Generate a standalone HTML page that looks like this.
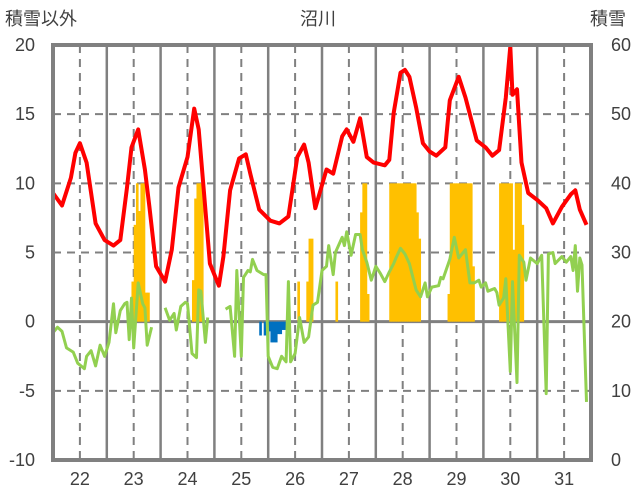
<!DOCTYPE html>
<html><head><meta charset="utf-8"><style>
body{margin:0;background:#fff;}
svg{display:block;font-family:"Liberation Sans","Noto Sans CJK JP",sans-serif;}
</style></head><body>
<svg id="chart" width="636" height="501" viewBox="0 0 636 501">
<text x="5" y="25" font-size="18" fill="#404040">積雪以外</text>
<text x="318" y="25" font-size="18" fill="#404040" text-anchor="middle">沼川</text>
<text x="590" y="25" font-size="18" fill="#404040">積雪</text>
<g id="grid"></g>
<g id="bars"></g>
<g id="lines"></g>
<g id="axes"></g>
</svg>
<script>
const dayLabels=[22,23,24,25,26,27,28,29,30,31];
const leftTicks=[20,15,10,5,0,-5,-10];
const rightTicks=[60,50,40,30,20,10,0];
const redHours=[0,4,8,10,12,15,19,23,27,30,33,35,38,41,43,46,50,53,56,60,63,65,67,70,74,76,79,83,86,88,92,97,101,105,109,112,114,117,122,125,129,131,134,137,140,143,148,150,152,155,157,159,162,165,168,171,175,177,181,184,189,193,196,199,202,204,205,207,209,212,216,220,223,227,231,233,235,238];
const redVals=[9.3,8.4,10.4,12.2,12.9,11.5,7.1,5.9,5.5,5.9,9.7,12.6,13.9,11,8.3,4,2.9,5.2,9.7,11.9,15.4,13.9,10,4.2,2.6,4.7,9.5,11.8,12.1,10.7,8.1,7.3,7.1,7.6,11.9,12.8,11.5,8.2,11,10.7,13.4,13.9,13,14.7,11.9,11.5,11.3,11.7,15.1,18,18.2,17.7,15.5,12.9,12.3,12,12.6,16,17.7,16.2,13.1,12.6,12,12.4,16.2,19.9,16.4,16.8,11.5,9.3,8.8,8.2,7.1,8.3,9.2,9.5,8.1,7.0];
const greenHours=[0,2,4,6,9,11,14,15,17,19,21,23,25,27,28,30,32,33,34,35,36,38,40,41,42,44,null,50,52,54,55,57,59,60,62,64,65,66,68,69,null,77,79,81,82,84,85,87,88,89,91,94,95,96,98,100,102,104,105,106,108,110,112,114,116,118,120,122,123,125,126,129,130,131,133,135,137,138,140,142,144,146,148,150,152,153,155,157,159,162,164,166,167,169,172,173,174,177,179,181,184,186,188,190,191,193,194,197,198,199,201,202,204,205,207,208,210,211,213,216,218,220,221,223,224,227,229,231,232,233,234,235,236,238];
const greenVals=[-0.8,-0.4,-0.7,-1.9,-2.2,-3.0,-3.4,-2.5,-2.1,-3.2,-1.7,-2.5,-1.5,1.3,-0.8,0.8,1.3,1.4,-1.3,1.7,-1.9,2.8,1.3,1.0,-1.7,-0.4,null,1.0,0.1,0.6,-0.6,1.1,1.4,1.3,-2.3,-2.6,2.3,2.2,-1.5,0.3,null,0.9,1.1,-2.5,3.7,-2.5,3.2,3.7,3.6,4.5,3.7,3.4,3.4,-2.5,-3.3,-3.4,-2.5,-2.9,2.9,-2.9,-2.3,0.3,-1.5,-1.1,1.2,1.4,3.7,4.0,5.5,3.4,5.0,6.1,5.5,6.5,4.8,6.3,6.3,5.2,4.3,3.0,4.0,3.5,2.9,3.6,4.2,4.6,5.3,4.9,4.2,2.3,1.8,2.8,1.8,2.5,2.6,3.2,3.1,4.5,6.1,4.6,5.2,2.8,2.8,3.0,2.5,2.8,2.2,2.4,2.1,1.2,1.7,3.1,-3.6,2.9,-4.4,4.8,4.3,3.0,4.6,4.2,4.8,-5.2,4.9,5.0,4.2,4.7,4.3,4.7,3.7,5.5,2.2,4.6,4.1,-5.8];
const snowHours=[35,36,37,38,39,40,41,42,62,63,64,65,66,109,113,114,115,126,137,138,139,140,150,151,152,153,154,155,156,157,158,159,160,161,162,163,176,177,178,179,180,181,182,183,184,185,186,187,199,200,201,202,203,204,205,206,207,208,209];
const snowVals=[2.9,7.0,10,8,10,10,2.1,2.1,3.0,8.9,10,10,10,2.9,2.9,6,6,2.9,7.9,10,10,2.0,10,10,10,10,10,10,10,10,10,10,10,10,7.9,6,2.0,10,10,10,10,10,10,10,10,10,10,4.0,10,10,10,10,10,10,5.2,10,10,10,7.0];
const blueHours=[92,94,95,96,97,98,99,100,101,102,103];
const blueVals=[-1.0,-1.0,-0.7,-0.7,-1.5,-1.5,-1.5,-0.9,-0.9,-0.6,-0.6];

const NS='http://www.w3.org/2000/svg';
const X0=53,X1=591,Y0=45,Y1=460;
const xH=h=>X0+h*(X1-X0)/240;
const yL=v=>Y0+(20-v)*(Y1-Y0)/30;
const yR=v=>Y1-v*(Y1-Y0)/60;
function mk(tag,attrs,parent){const e=document.createElementNS(NS,tag);for(const k in attrs)e.setAttribute(k,attrs[k]);parent.appendChild(e);return e;}
const grid=document.getElementById('grid'),bars=document.getElementById('bars'),lines=document.getElementById('lines'),axes=document.getElementById('axes');
// horizontal grid
leftTicks.forEach(v=>{
  if(v===20||v===-10)return;
  const l=mk('line',{x1:X0,x2:X1,y1:yL(v),y2:yL(v),stroke:v===0?'#808080':'#808080','stroke-width':v===0?3:2,'stroke-dasharray':v===0?'none':'8,6'},grid);
  
  
});
dayLabels.forEach((d,i)=>{
  const xc=xH(i*24+12);
  const l=mk('line',{x1:xc,x2:xc,y1:Y0,y2:Y1,stroke:'#808080','stroke-width':2,'stroke-dasharray':'8,6'},grid);
  
  
  if(i>0){const xb=xH(i*24);
    const b=mk('line',{x1:xb,x2:xb,y1:Y0,y2:Y1,stroke:'#808080','stroke-width':2.5},grid);
    
    }
  const t=mk('text',{x:xc,y:485,'font-size':18,fill:'#404040','text-anchor':'middle'},axes);
  t.textContent=d;
  
  
});
const bw=(X1-X0)/240;
snowHours.forEach((h,i)=>{
  const r=mk('rect',{x:xH(h),y:yL(snowVals[i]),width:bw+0.4,height:yL(0)-yL(snowVals[i]),fill:'#ffc000'},bars);
  
  
});
blueHours.forEach((h,i)=>{
  const r=mk('rect',{x:xH(h),y:yL(0),width:bw+0.4,height:yL(blueVals[i])-yL(0),fill:'#0070c0'},bars);
  
  
});
// green line with gaps
let d='',pen=false;
greenHours.forEach((h,i)=>{
  if(h===null||greenVals[i]===null){pen=false;return;}
  d+=(pen?'L':'M')+xH(h).toFixed(1)+','+yL(greenVals[i]).toFixed(1);pen=true;
});
const g=mk('path',{d:d,fill:'none',stroke:'#92d050','stroke-width':3,'stroke-linejoin':'round'},lines);


let dr='';
redHours.forEach((h,i)=>{dr+=(i?'L':'M')+xH(h).toFixed(1)+','+yL(redVals[i]).toFixed(1);});
const r=mk('path',{d:dr,fill:'none',stroke:'#ff0000','stroke-width':4,'stroke-linejoin':'round'},lines);


// frame
const f=mk('rect',{x:X0,y:Y0,width:X1-X0,height:Y1-Y0,fill:'none',stroke:'#808080','stroke-width':4},axes);


leftTicks.forEach(v=>{
  const t=mk('text',{x:35,y:yL(v)+6,'font-size':18,fill:'#404040','text-anchor':'end'},axes);
  t.textContent=v;
  
  
});
rightTicks.forEach(v=>{
  const t=mk('text',{x:611,y:yR(v)+6,'font-size':18,fill:'#404040'},axes);
  t.textContent=v;
  
  
});
</script>
</body></html>
